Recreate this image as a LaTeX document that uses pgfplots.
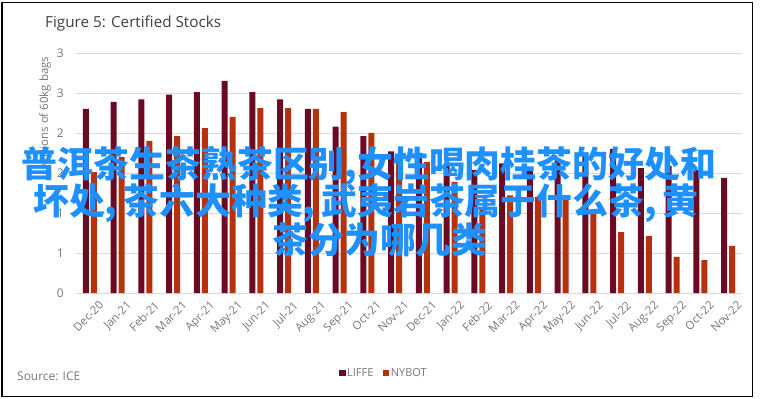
\documentclass[border=0pt]{standalone}
\usepackage{pgfplots}
\pgfplotsset{compat=1.18}
\usepackage{fontspec}
\setmainfont{Open Sans}
\newfontfamily\cjk{Noto Sans CJK SC}
\definecolor{liffe}{RGB}{108,10,36}
\definecolor{nybot}{RGB}{182,50,12}
\definecolor{txtgray}{RGB}{118,118,118}
\definecolor{titlegray}{RGB}{64,64,64}
\definecolor{gridgray}{RGB}{217,217,217}
\definecolor{cjkblue}{RGB}{30,144,255}

\pgfplotstableread{
idx liffe nybot
0  2.30 1.51
1  2.39 1.70
2  2.42 1.90
3  2.48 1.96
4  2.51 2.06
5  2.65 2.20
6  2.51 2.31
7  2.42 2.31
8  2.30 2.30
9  2.08 2.26
10 1.96 2.00
11 1.77 1.71
12 1.75 1.64
13 1.60 1.39
14 1.54 1.06
15 1.62 1.22
16 1.54 1.20
17 1.68 1.16
18 1.75 1.04
19 1.80 0.76
20 1.56 0.71
21 1.59 0.45
22 1.54 0.41
23 1.44 0.59
}\stocks

\begin{document}
\begin{tikzpicture}
\useasboundingbox (0bp,0bp) rectangle (760bp,399bp);
\draw[black, line width=1.2bp] (2bp,2.5bp) rectangle (752.5bp,396.5bp);
\begin{axis}[
  at={(76bp,106bp)}, anchor=south west,
  scale only axis, width=666bp, height=240bp,
  ybar=2bp, bar width=6bp,
  xmin=-0.5, xmax=23.5, ymin=0, ymax=3,
  xtick={0,...,23},
  xticklabels={Dec-20,Jan-21,Feb-21,Mar-21,Apr-21,May-21,Jun-21,Jul-21,Aug-21,Sep-21,Oct-21,Nov-21,Dec-21,Jan-22,Feb-22,Mar-22,Apr-22,May-22,Jun-22,Jul-22,Aug-22,Sep-22,Oct-22,Nov-22},
  ytick={0,0.5,...,3},
  yticklabels={0,1,1,2,2,3,3},
  ymajorgrids, grid style={gridgray, line width=0.9bp},
  axis x line*=bottom, axis y line*=left,
  y axis line style={draw=none},
  x axis line style={gridgray, line width=1bp, -},
  major tick length=0pt,
  tick style={draw=none},
  xticklabel style={rotate=45, anchor=north east, inner sep=0pt, xshift=1bp, yshift=-11bp, font=\fontsize{11.5}{13}\selectfont, text=txtgray},
  yticklabel style={anchor=east, inner sep=0pt, xshift=-12bp, font=\fontsize{12}{13}\selectfont, text=txtgray},
  clip=false,
  legend style={at={(0.462,-0.333)}, anchor=center, draw=none, fill=none,
    legend columns=2, font=\fontsize{11}{12}\selectfont, text=txtgray,
    /tikz/every even column/.append style={column sep=8bp},
    nodes={inner sep=1.5bp}},
  legend cell align=left,
]
\addplot[fill=liffe, draw=none, legend image code/.code={\fill[liffe] (0bp,-3.5bp) rectangle (6.5bp,3bp);}] table[x=idx, y=liffe] {\stocks};
\addplot[fill=nybot, draw=none, legend image code/.code={\fill[nybot] (0bp,-3.5bp) rectangle (6.5bp,3bp);}] table[x=idx, y=nybot] {\stocks};
\legend{LIFFE, NYBOT}
\node[rotate=90, text=txtgray, font=\fontsize{11.5}{13}\selectfont, inner sep=0pt] at (rel axis cs:-0.0465,0.752) {Millions of 60kg bags};
\end{axis}
\node[anchor=base west, inner sep=0pt, text=titlegray, font=\fontsize{15.3}{18}\selectfont] at (45bp,371bp) {Figure 5: Certified Stocks};
\node[anchor=base west, inner sep=0pt, text=txtgray, font=\fontsize{12}{14}\selectfont] at (17bp,19bp) {Source: ICE};
\begin{scope}[every node/.style={inner sep=0pt, text=cjkblue, font=\cjk\bfseries\fontsize{36}{36}\selectfont}]
\node at (369bp,233.5bp) {普洱茶生茶熟茶区别,女性喝肉桂茶的好处和};
\node at (366bp,196bp) {坏处,\hspace{6bp}茶六大种类,\hspace{6bp}武夷岩茶属于什么茶,\hspace{6bp}黄};
\node at (380bp,159bp) {茶分为哪几类};
\end{scope}
\end{tikzpicture}
\end{document}
